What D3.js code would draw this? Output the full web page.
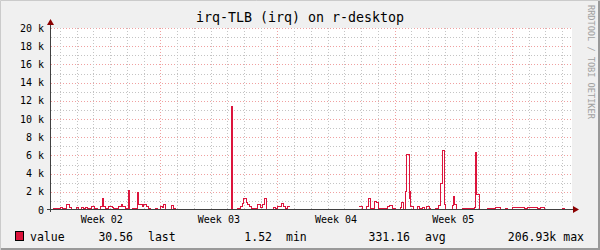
<!DOCTYPE html>
<html>
<head>
<meta charset="utf-8">
<script src="https://cdn.jsdelivr.net/npm/d3@7"></script>
<style>
  body { margin: 0; background: #f0f0f0; }
  text { font-family: "DejaVu Sans Mono", monospace; }
</style>
</head>
<body>
<div id="chart"></div>
<script>
// time in hours from the left edge of the plot, value per segment (null = no data)
var stepHours = [2, 12.9, 16.3, 21, 25.8, 28.7, 35.4, 39.2, 43, 46.4, 48.8, 51.2, 53.5, 57.4, 62.2, 65.5, 70.3, 73.6, 75, 77.5,
  81.3, 87, 89.4, 94.2, 96.6, 100.4, 102.3, 106.2, 110, 111.9, 116.7, 122.9, 125.3, 127.7, 130.1, 132.5, 135.8, 138.7, 142, 149.2,
  152.5, 156.4, 158.8, 160.2, 163.5, 171.7, 175.4, 177.9, 256.8, 258.2, 258.9, 267.3, 271.1, 273.6, 275.9, 279.3, 281.6, 284, 286.5, 295,
  299.8, 303.2, 305.6, 308.1, 318.9, 321.3, 323.8, 327, 330, 332.8, 335.7, 338.1, 341.9, 440.8, 445.7, 451.9, 455.2, 457.6, 463.3, 466.2,
  468.6, 481.6, 485.3, 488.7, 493.5, 500.6, 502.5, 505.4, 507.8, 509.3, 512.6, 513.1, 513.6, 514.1, 514.6, 515, 518.8, 524.6, 528.3, 531.7,
  535.1, 537.5, 541.3, 543.7, 550.8, 554.7, 558, 560.4, 563.8, 565.2, 574.8, 576.2, 578.1, 580.6, 589.2, 605.8, 608.2, 608.8, 609.4, 610,
  610.7, 613, 625, 637, 644, 651, 653.7, 660.9, 677.6, 682.4, 696.7, 701.5, 706.2, 732.6, 735, 747];
var stepValues = [100, 200, 100, 550, 250, 50, 200, 50, 200, 100, 200, 50, 150, 300, 150, 50, 350, 1200, 350, 100,
  300, 200, 100, 150, 350, 550, 300, 150, 2100, 50, 100, 1900, 500, 600, 300, 550, 300, 100, 50, 150,
  50, 350, 200, 500, 0, 450, 100, null, 0, 11300, 0, 100, 300, 700, 1200, 800, 500, 300, 100, 500,
  200, 500, 1200, 30, 200, 100, 350, 300, 650, 300, 100, 300, null, 300, 50, 350, 1200, 100, 900, 750,
  100, 300, 450, 100, 50, 250, 750, 50, 2000, 6050, 1250, 2050, 1250, 2050, 1250, 300, 50, 300, 100, 200,
  50, 320, 100, 50, 150, 400, 2850, 6500, 500, 50, 400, 1400, 500, 50, 120, 200, 6250, 1650, 6250, 1650,
  1650, 50, 150, 200, 50, 150, 50, 200, 150, 200, 150, 200, 50, 150, 50];

var weekStartHours = [156.7, 324.7, 492.7, 660.7];
var weekLabelHours = [72.7, 240.7, 408.7, 576.7];
var weekLabels = ['Week 02', 'Week 03', 'Week 04', 'Week 05'];
var yTicks = [0, 2000, 4000, 6000, 8000, 10000, 12000, 14000, 16000, 18000, 20000];
var yTickLabels = ['0', '2 k', '4 k', '6 k', '8 k', '10 k', '12 k', '14 k', '16 k', '18 k', '20 k'];
var legendItems = [
  { text: '30.56', x: 133, anchor: 'end' }, { text: 'last', x: 148, anchor: 'start' },
  { text: '1.52', x: 272, anchor: 'end' }, { text: 'min', x: 286, anchor: 'start' },
  { text: '331.16', x: 410, anchor: 'end' }, { text: 'avg', x: 425, anchor: 'start' },
  { text: '206.93k max', x: 584, anchor: 'end' }
];

var W = 600, H = 250;
var margin = { left: 51, right: 28, top: 28, bottom: 40 };
var lineColor = '#dc143c';

var svg = d3.select('#chart').append('svg').attr('width', W).attr('height', H);

var x = d3.scaleLinear().domain([0, 747]).range([margin.left, W - margin.right]);
var y = d3.scaleLinear().domain([0, 20000]).range([H - margin.bottom, margin.top]);

// background + frame
svg.append('rect').attr('width', W).attr('height', H).attr('fill', '#f0f0f0');
svg.append('rect')
  .attr('x', margin.left).attr('y', margin.top)
  .attr('width', x.range()[1] - margin.left).attr('height', y(0) - margin.top)
  .attr('fill', '#ffffff');
svg.append('path').attr('d', 'M0.5,' + H + 'V0.5H' + W).attr('stroke', '#cbcbcb').attr('fill', 'none');
svg.append('path').attr('d', 'M1,' + (H - 1) + 'H' + (W - 1) + 'V1').attr('stroke', '#999999').attr('stroke-width', 2).attr('fill', 'none');

var grid = svg.append('g').attr('shape-rendering', 'crispEdges');

// minor horizontal grid every 1k
d3.range(1000, 20001, 2000).forEach(function(v) {
  grid.append('line')
    .attr('x1', margin.left).attr('x2', x.range()[1])
    .attr('y1', Math.round(y(v)) + 0.5).attr('y2', Math.round(y(v)) + 0.5)
    .attr('stroke', '#c4c4c4').attr('stroke-dasharray', '1,2');
});
yTicks.slice(1).forEach(function(v) {
  grid.append('line')
    .attr('x1', margin.left).attr('x2', x.range()[1])
    .attr('y1', Math.round(y(v)) + 0.5).attr('y2', Math.round(y(v)) + 0.5)
    .attr('stroke', '#f0a0a0').attr('stroke-dasharray', '1,2');
});

// day lines (gray) and week lines (red)
var dayHours = d3.range(12.7, 747, 24).filter(function(h) {
  return !weekStartHours.some(function(w) { return Math.abs(w - h) < 1; });
});
dayHours.forEach(function(h) {
  grid.append('line')
    .attr('x1', Math.round(x(h)) + 0.5).attr('x2', Math.round(x(h)) + 0.5)
    .attr('y1', margin.top).attr('y2', y(0))
    .attr('stroke', '#c4c4c4').attr('stroke-dasharray', '1,2');
});
weekStartHours.forEach(function(h) {
  grid.append('line')
    .attr('x1', Math.round(x(h)) + 0.5).attr('x2', Math.round(x(h)) + 0.5)
    .attr('y1', margin.top).attr('y2', y(0))
    .attr('stroke', '#f0a0a0').attr('stroke-dasharray', '1,2');
});

// expand segments into step points
var pts = [];
for (var i = 0; i < stepValues.length; i++) {
  if (stepValues[i] === null) {
    pts.push({ t: stepHours[i], v: null });
  } else {
    pts.push({ t: stepHours[i], v: stepValues[i] });
    pts.push({ t: stepHours[i + 1], v: stepValues[i] });
  }
}

var line = d3.line()
  .defined(function(d) { return d.v !== null; })
  .x(function(d) { return Math.round(x(d.t)) + 0.5; })
  .y(function(d) { return Math.round(y(d.v)) - 0.5; });

svg.append('path')
  .datum(pts)
  .attr('fill', 'none')
  .attr('stroke', lineColor)
  .attr('stroke-width', 1)
  .attr('shape-rendering', 'crispEdges')
  .attr('d', line);

// axes
var axisColor = '#404040';
svg.append('line')
  .attr('x1', margin.left - 0.5).attr('x2', margin.left - 0.5)
  .attr('y1', y(0) + 2).attr('y2', margin.top - 5)
  .attr('stroke', axisColor).attr('shape-rendering', 'crispEdges');
svg.append('line')
  .attr('x1', margin.left - 4).attr('x2', x.range()[1] + 2)
  .attr('y1', y(0) - 0.5).attr('y2', y(0) - 0.5)
  .attr('stroke', axisColor).attr('shape-rendering', 'crispEdges');
var arrowColor = '#8b0000';
svg.append('path')
  .attr('d', 'M' + (margin.left - 4) + ',' + (margin.top - 3) + 'L' + (margin.left - 0.5) + ',' + (margin.top - 9) + 'L' + (margin.left + 3) + ',' + (margin.top - 3) + 'Z')
  .attr('fill', arrowColor);
svg.append('path')
  .attr('d', 'M' + (x.range()[1] + 1) + ',' + (y(0) - 4) + 'L' + (x.range()[1] + 7) + ',' + (y(0) - 0.5) + 'L' + (x.range()[1] + 1) + ',' + (y(0) + 3) + 'Z')
  .attr('fill', arrowColor);

// y labels
svg.append('g').selectAll('text')
  .data(yTicks)
  .enter().append('text')
  .attr('x', 44)
  .attr('y', function(d) { return y(d) + 3.5; })
  .attr('text-anchor', 'end')
  .attr('font-size', '10px')
  .attr('fill', '#000')
  .text(function(d, i) { return yTickLabels[i]; });

// week labels
svg.append('g').selectAll('text')
  .data(weekLabelHours)
  .enter().append('text')
  .attr('x', function(d) { return x(d); })
  .attr('y', 223)
  .attr('text-anchor', 'middle')
  .attr('font-size', '10px')
  .attr('fill', '#000')
  .text(function(d, i) { return weekLabels[i]; });

// title
svg.append('text')
  .attr('x', 300).attr('y', 22)
  .attr('text-anchor', 'middle')
  .attr('font-size', '13.3px')
  .attr('fill', '#000')
  .text('irq-TLB (irq) on r-desktop');

// watermark
svg.append('text')
  .attr('transform', 'translate(588,5) rotate(90)')
  .attr('font-size', '8.6px')
  .attr('fill', '#a0a0a0')
  .text('RRDTOOL / TOBI OETIKER');

// legend
svg.append('rect')
  .attr('x', 15.5).attr('y', 231.5).attr('width', 8).attr('height', 9)
  .attr('fill', lineColor).attr('stroke', '#000');
svg.append('text')
  .attr('x', 30).attr('y', 241)
  .attr('font-size', '11.5px').attr('fill', '#000')
  .text('value');
svg.append('g').selectAll('text')
  .data(legendItems)
  .enter().append('text')
  .attr('x', function(d) { return d.x; })
  .attr('y', 241)
  .attr('text-anchor', function(d) { return d.anchor; })
  .attr('font-size', '11.5px')
  .attr('fill', '#000')
  .text(function(d) { return d.text; });
</script>
</body>
</html>
